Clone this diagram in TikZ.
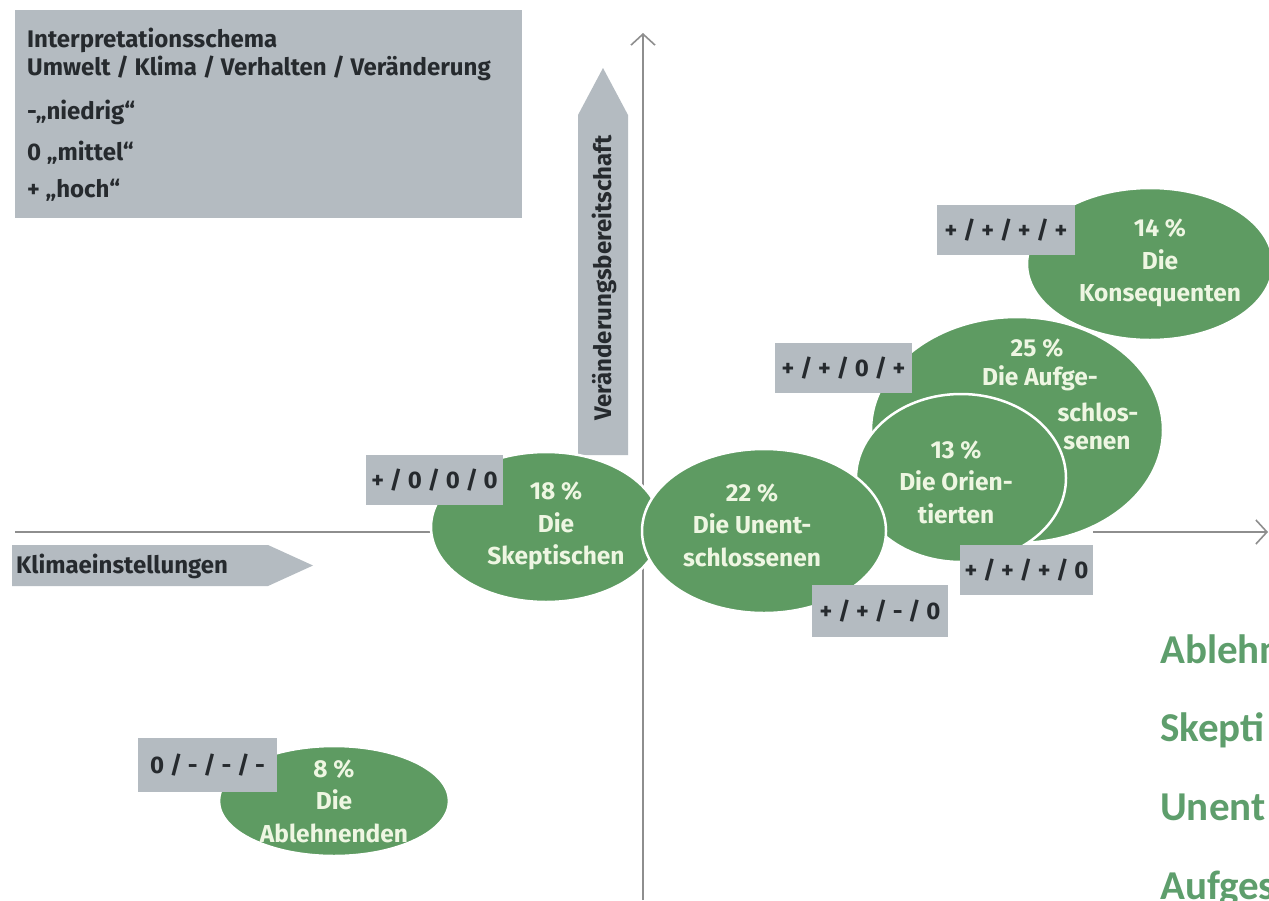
\documentclass[tikz,border=0pt]{standalone}
\usepackage{fontspec}
\setmainfont{Fira Sans}
\newfontfamily\calib{Carlito}
\usetikzlibrary{arrows.meta,shapes.geometric}
\definecolor{grn}{HTML}{5E9B62}
\definecolor{gbox}{HTML}{B4BBC1}
\definecolor{axisc}{HTML}{8E8E8E}
\definecolor{etext}{HTML}{EEF6E2}
\definecolor{dtext}{HTML}{262A2E}
\definecolor{lgreen}{HTML}{5E9E6C}
\begin{document}
\begin{tikzpicture}[x=1pt,y=-1pt,
  ell/.style={ellipse, draw=white, line width=2.5pt, fill=grn, inner sep=0pt},
  lbl/.style={fill=gbox, inner sep=0pt, text=dtext, font=\fontsize{24}{28}\selectfont\bfseries},
  etxt/.style={text=etext, font=\fontsize{24.5}{32.5}\selectfont\bfseries, align=center},
  htxt/.style={text=dtext, font=\fontsize{24}{28}\selectfont\bfseries, anchor=west, inner sep=0pt},
  ax/.style={draw=axisc, line width=1.6pt},
  axtip/.style={-{Straight Barb[length=11pt,width=24pt,line width=1.6pt]}},
  rtxt/.style={text=lgreen, font=\calib\fontsize{41}{48}\selectfont\bfseries, anchor=base west, inner sep=0pt}
]
\useasboundingbox (0,0) rectangle (1269,900);
\fill[white] (0,0) rectangle (1269,900);

% legend box
\node[fill=gbox, minimum width=507pt, minimum height=208pt, inner sep=0pt, anchor=north west] (legend) at (15,10) {};
\node[htxt] (l1) at (27,40) {Interpretationsschema};
\node[htxt] (l2) at (27,68) {Umwelt / Klima / Verhalten / Veränderung};
\node[htxt] (l3) at (27,112) {-„niedrig“};
\node[htxt] (l4) at (27,153) {0 „mittel“};
\node[htxt] (l5) at (27,190) {+ „hoch“};

% axes
\coordinate (vb) at (643,900);
\coordinate (vt) at (643,33);
\coordinate (hl0) at (15,532);
\coordinate (hl1) at (432,532);
\coordinate (hr0) at (1093,532);
\coordinate (hr1) at (1268,532);
\draw[ax,axtip] (vb) -- (vt);
\draw[ax] (hl0) -- (hl1);
\draw[ax,axtip] (hr0) -- (hr1);

% gray direction arrows
\fill[gbox] (578,455) -- (578,115) -- (603,68) -- (628,115) -- (628,455) -- cycle;
\node[text=dtext, font=\fontsize{24}{28}\selectfont\bfseries, rotate=90, inner sep=0pt] (vlab) at (604,278) {Veränderungsbereitschaft};
\fill[gbox] (12,545) -- (268,545) -- (313,565.5) -- (268,586) -- (12,586) -- cycle;
\node[htxt] (hlab) at (16,566) {Klimaeinstellungen};

% ellipses
\node[ell, minimum width=246pt, minimum height=152pt] (kon) at (1150,264) {};
\node[ell, minimum width=292pt, minimum height=226pt] (auf) at (1017,430) {};
\node[ell, minimum width=210pt, minimum height=168pt] (ori) at (961,478) {};
\node[ell, minimum width=230pt, minimum height=150pt] (ske) at (546,527) {};
\node[ell, minimum width=244pt, minimum height=164pt] (une) at (764,531) {};
\node[ell, minimum width=230pt, minimum height=110pt] (abl) at (334,801) {};

% ellipse texts
\node[etxt] (tkon) at (1160,263) {14 \%\\Die\\Konsequenten};
\node[etxt] (tauf1) at (1037,348) {25 \%};
\node[etxt] (tauf2) at (1040,378) {Die Aufge-};
\node[etxt] (tauf3) at (1098,412) {schlos-};
\node[etxt] (tauf4) at (1097,443) {senen};
\node[etxt] (tori) at (956,482) {13 \%\\Die Orien-\\tierten};
\node[etxt] (tske) at (556,526) {18 \%\\Die\\Skeptischen};
\node[etxt] (tune) at (752,525) {22 \%\\Die Unent-\\schlossenen};
\node[etxt] (tabl) at (334,801) {8 \%\\Die\\Ablehnenden};

% label boxes
\node[lbl, minimum width=137pt, minimum height=50pt] (bske) at (434.5,480) {+ / 0 / 0 / 0};
\node[lbl, minimum width=136pt, minimum height=52pt] (bune) at (880,611) {+ / + / - / 0};
\node[lbl, minimum width=133pt, minimum height=50pt] (bori) at (1026.5,570) {+ / + / + / 0};
\node[lbl, minimum width=137pt, minimum height=50pt] (bauf) at (843.5,368) {+ / + / 0 / +};
\node[lbl, minimum width=138pt, minimum height=50pt] (bkon) at (1006,230) {+ / + / + / +};
\node[lbl, minimum width=139pt, minimum height=54pt] (babl) at (207.5,765) {0 / - / - / -};

% right side text (cut off at the edge, as in the reference)
\node[rtxt] (r1) at (1160,663) {Ablehn};
\node[rtxt] (r2) at (1160,741) {Skepti};
\node[rtxt] (r3) at (1160,820) {Unent};
\node[rtxt] (r4) at (1160,899) {Aufges};
\end{tikzpicture}
\end{document}
